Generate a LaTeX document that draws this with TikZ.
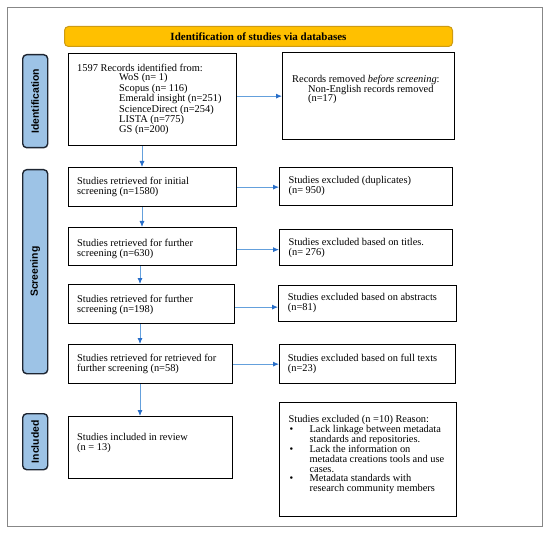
\documentclass[tikz,border=0pt]{standalone}
\usepackage{fontspec}
\setmainfont{Liberation Serif}
\newfontfamily\labfont{Liberation Sans}
\usetikzlibrary{arrows.meta}
\definecolor{lblue}{RGB}{157,195,230}
\definecolor{lborder}{RGB}{30,38,50}
\definecolor{gold}{RGB}{255,192,0}
\definecolor{goldb}{RGB}{205,155,20}
\definecolor{arrline}{RGB}{100,160,220}
\definecolor{arrhead}{RGB}{40,110,200}
\definecolor{framegray}{RGB}{135,135,135}
\begin{document}
\begin{tikzpicture}[x=1pt,y=-1pt,
  box/.style={draw=black, line width=1.3pt, anchor=north west, inner sep=0pt},
  txt/.style={anchor=west, inner sep=0pt, align=left, font=\fontsize{10.4}{10}\selectfont},
  phase/.style={draw=lborder, fill=lblue, line width=1.4pt, rounded corners=4pt, anchor=north west, inner sep=0pt},
  phasetxt/.style={rotate=90, inner sep=0pt, font=\labfont\bfseries\fontsize{10.4}{12}\selectfont},
  arr/.style={draw=arrline, line width=0.8pt, -{Latex[length=6pt,width=5pt,color=arrhead]}}
]
\useasboundingbox (0,0) rectangle (550,535);
\node[draw=framegray, line width=1.2pt, anchor=north west, inner sep=0pt, minimum width=535pt, minimum height=519pt] (frame) at (7,7) {};
% banner
\node[draw=goldb, fill=gold, line width=1pt, rounded corners=4pt, anchor=north west, inner sep=0pt, minimum width=388pt, minimum height=20pt] (banner) at (64,26) {};
\node[inner sep=0pt, font=\bfseries\fontsize{11}{12}\selectfont] (title) at (banner.center) {Identification of studies via databases};
% phase labels
\node[phase, minimum width=25pt, minimum height=93pt] (pid) at (22,54) {};
\node[phasetxt] (pidt) at (pid.center) {Identification};
\node[phase, minimum width=25pt, minimum height=204pt] (pscr) at (22,169) {};
\node[phasetxt] (pscrt) at (pscr.center) {Screening};
\node[phase, minimum width=25pt, minimum height=56pt] (pinc) at (22,413) {};
\node[phasetxt] (pinct) at (pinc.center) {Included};
% boxes
\node[box, minimum width=168pt, minimum height=92pt] (b1) at (68,53) {};
\node[box, minimum width=172pt, minimum height=87pt] (r1) at (282,52) {};
\node[box, minimum width=168pt, minimum height=39pt] (b2) at (68,167) {};
\node[box, minimum width=173pt, minimum height=38pt] (r2) at (279,167) {};
\node[box, minimum width=168pt, minimum height=38pt] (b3) at (68,227) {};
\node[box, minimum width=173pt, minimum height=36pt] (r3) at (279,229) {};
\node[box, minimum width=166pt, minimum height=39pt] (b4) at (68,284) {};
\node[box, minimum width=178pt, minimum height=36pt] (r4) at (278,285) {};
\node[box, minimum width=164pt, minimum height=39pt] (b5) at (68,344) {};
\node[box, minimum width=176pt, minimum height=39pt] (r5) at (279,344) {};
\node[box, minimum width=164pt, minimum height=62pt] (b6) at (68,416) {};
\node[box, minimum width=177pt, minimum height=114pt] (r6) at (279,402) {};
% texts
\node[txt, font=\fontsize{10.4}{9.1}\selectfont] (t1) at (77,99.7) {1597 Records identified from:\\
\hspace*{42pt}WoS (n= 1)\\
\hspace*{42pt}Scopus (n= 116)\\
\hspace*{42pt}Emerald insight (n=251)\\
\hspace*{42pt}ScienceDirect (n=254)\\
\hspace*{42pt}LISTA (n=775)\\
\hspace*{42pt}GS (n=200)};
\node[txt, font=\fontsize{10.4}{9.7}\selectfont] (tr1) at (292,89.7) {Records removed \textit{before screening}:\\
\hspace*{16pt}Non-English records removed\\
\hspace*{16pt}(n=17)};
\node[txt] (t2) at (77,187.3) {Studies retrieved for initial\\screening (n=1580)};
\node[txt] (tr2) at (288.4,186.4) {Studies excluded (duplicates)\\(n= 950)};
\node[txt] (t3) at (77,249.3) {Studies retrieved for further\\screening (n=630)};
\node[txt] (tr3) at (288.4,247.7) {Studies excluded based on titles.\\(n= 276)};
\node[txt] (t4) at (77,304.5) {Studies retrieved for further\\screening (n=198)};
\node[txt] (tr4) at (287.7,303.3) {Studies excluded based on abstracts\\(n=81)};
\node[txt] (t5) at (77,364) {Studies retrieved for retrieved for\\further screening (n=58)};
\node[txt] (tr5) at (287.7,364.3) {Studies excluded based on full texts\\(n=23)};
\node[txt] (t6) at (77,442.5) {Studies included in review\\(n = 13)};
\node[txt, font=\fontsize{10.4}{9.9}\selectfont] (tr6) at (288.4,454.7) {Studies excluded (n =10) Reason:\\
\makebox[21pt][l]{\hspace*{1pt}\textbullet}Lack linkage between metadata\\
\hspace*{21pt}standards and repositories.\\
\makebox[21pt][l]{\hspace*{1pt}\textbullet}Lack the information on\\
\hspace*{21pt}metadata creations tools and use\\
\hspace*{21pt}cases.\\
\makebox[21pt][l]{\hspace*{1pt}\textbullet}Metadata standards with\\
\hspace*{21pt}research community members};
% arrow guides
\coordinate (ax) at (142,0);
\coordinate (bx) at (140,0);
% vertical arrows
\draw[arr] (b1.south -| ax) -- (b2.north -| ax);
\draw[arr] (b2.south -| ax) -- (b3.north -| ax);
\draw[arr] (b3.south -| bx) -- (b4.north -| bx);
\draw[arr] (b4.south -| bx) -- (b5.north -| bx);
\draw[arr] (b5.south -| bx) -- (b6.north -| bx);
% horizontal arrows
\draw[arr] (b1.east |- r1.west) -- (r1.west);
\draw[arr] (b2.east) -- (b2.east -| r2.west);
\draw[arr] ([yshift=-3pt]b3.east) -- ([yshift=-3pt]b3.east -| r3.west);
\draw[arr] ([yshift=-3pt]b4.east) -- ([yshift=-3pt]b4.east -| r4.west);
\draw[arr] (b5.east) -- (b5.east -| r5.west);
\end{tikzpicture}
\end{document}
